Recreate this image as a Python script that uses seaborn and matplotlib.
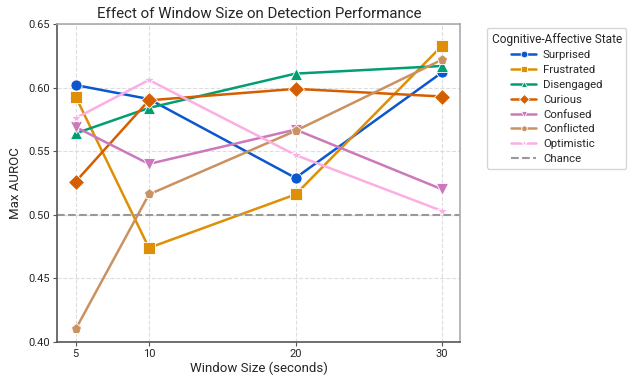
import pandas as pd
import matplotlib
matplotlib.use('Agg')
import matplotlib.pyplot as plt
import seaborn as sns

# Window sizes (seconds) and max AUROC per state
window_sizes = [5, 10, 20, 30]
states = ['Surprised', 'Frustrated', 'Disengaged', 'Curious',
          'Confused', 'Conflicted', 'Optimistic']
surprised = [0.602, 0.591, 0.529, 0.612]
frustrated = [0.593, 0.474, 0.516, 0.633]
disengaged = [0.564, 0.584, 0.611, 0.617]
curious = [0.526, 0.590, 0.599, 0.593]
confused = [0.569, 0.540, 0.567, 0.520]
conflicted = [0.410, 0.516, 0.566, 0.622]
optimistic = [0.576, 0.606, 0.547, 0.503]
chance = 0.5

series = [surprised, frustrated, disengaged, curious, confused, conflicted, optimistic]
rows = []
for state, vals in zip(states, series):
    for w, v in zip(window_sizes, vals):
        rows.append({'Window': w, 'AUROC': v, 'State': state})
df = pd.DataFrame(rows)

colors = ['#0b57d0', '#de8f05', '#029e73', '#d55e00', '#cc78bc', '#ca9161', '#fbafe4']
markers = ['o', 's', '^', 'D', 'v', 'p', '*']

sns.set_style('whitegrid', {'grid.linestyle': '--', 'grid.color': '#dddddd'})
plt.rcParams['font.family'] = ['Roboto', 'DejaVu Sans']

fig = plt.figure(figsize=(6.4, 3.75), dpi=100)
ax = fig.add_axes([0.0895, 0.088, 0.630, 0.848])

sns.lineplot(data=df, x='Window', y='AUROC', hue='State', style='State',
             hue_order=states, style_order=states,
             palette=dict(zip(states, colors)), markers=dict(zip(states, markers)),
             dashes=False, linewidth=1.8, markersize=8, markeredgecolor='white',
             markeredgewidth=0.6, ax=ax)
ax.axhline(chance, color='#999999', linestyle='--', linewidth=1.5, label='Chance')

ax.set_xticks(window_sizes)
ax.set_ylim(0.40, 0.65)
ax.set_yticks([0.40, 0.45, 0.50, 0.55, 0.60, 0.65])
ax.set_yticklabels([f'{t:.2f}' for t in ax.get_yticks()])
ax.tick_params(axis='both', labelsize=8, length=3, pad=2, color='#555555',
               direction='out', bottom=True, left=True)
for side in ['left', 'bottom']:
    ax.spines[side].set_color('#555555')
for side in ['top', 'right']:
    ax.spines[side].set_color('#aaaaaa')
for s in ax.spines.values():
    s.set_linewidth(1.2)

ax.set_title('Effect of Window Size on Detection Performance', fontsize=10.8, pad=4)
ax.set_xlabel('Window Size (seconds)', fontsize=9.5, labelpad=2)
ax.set_ylabel('Max AUROC', fontsize=9.5, labelpad=5)

handles, labels = ax.get_legend_handles_labels()
ax.legend(handles, labels, title='Cognitive-Affective State', loc='upper left',
          bbox_to_anchor=(0.761, 0.925), bbox_transform=fig.transFigure,
          borderaxespad=0, fontsize=8.2, title_fontsize=8.6, frameon=True,
          edgecolor='#cccccc', markerscale=0.6, handlelength=2.2,
          handletextpad=0.6, labelspacing=0.42, borderpad=0.4)

plt.savefig('out.png', dpi=100)
plt.close()
